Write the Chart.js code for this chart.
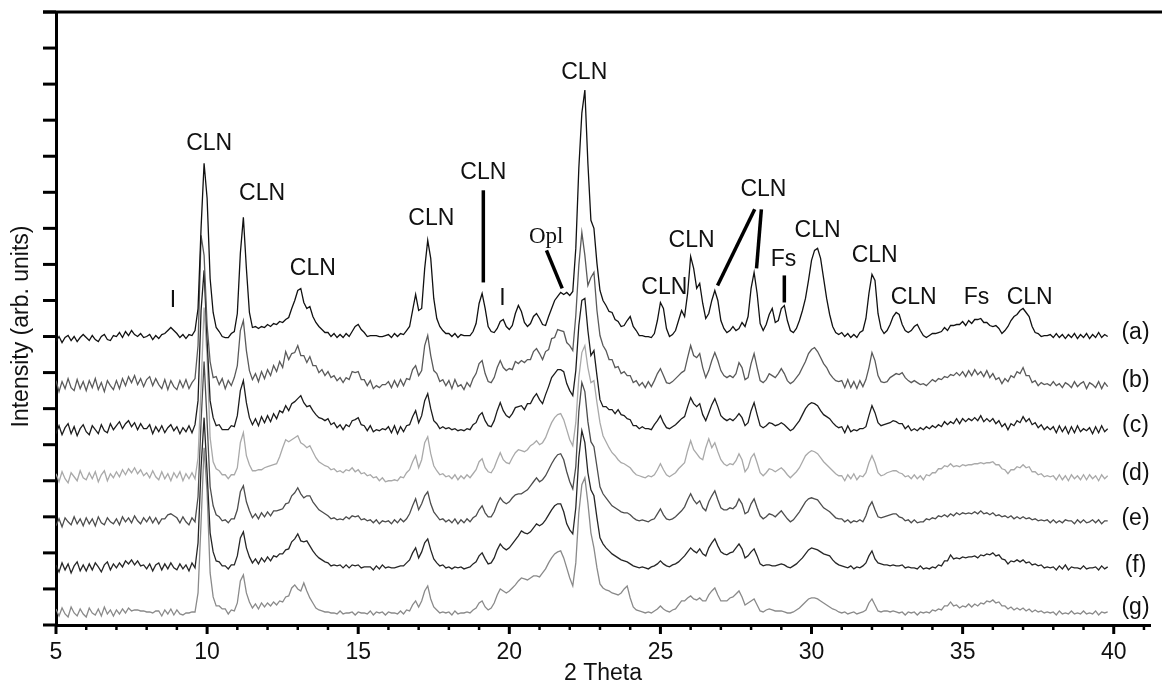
<!DOCTYPE html>
<html>
<head>
<meta charset="utf-8">
<title>XRD patterns (a)-(g)</title>
<script src="https://cdn.jsdelivr.net/npm/chart.js@4.4.1/dist/chart.umd.min.js"></script>
<style>
  html, body { margin: 0; padding: 0; background: #fff; }
  #xrd { display: block; }
</style>
</head>
<body>
<canvas id="xrd" width="1162" height="687"></canvas>
<script>
// xrd.html
// Stacked powder XRD patterns, seven samples (a)..(g), 5–39.8° 2θ
// Intensities are counts above each pattern's own baseline; every pattern
// is lifted by its stacking offset when plotted.

// ── SCAN GRID ───────────────────────────────────────
const thetaStart = 5.0;
const thetaStep  = 0.1;   // 349 points, 5.0 .. 39.8

// ── PATTERNS (one row = one degree) ─────────────────
const patternA = [
  -3,2,-4,1,3,-2,2,-3,1,4,
  1,-2,3,-1,-3,2,4,-1,-2,3,
  2,6,1,7,3,8,4,2,5,1,
  2,4,-1,3,0,4,5,8,11,8,
  5,1,4,0,4,3,8,30,110,175,
  140,60,26,11,7,2,1,1,5,7,
  25,85,121,70,26,11,12,10,12,11,
  14,12,15,14,17,16,19,21,30,38,
  48,50,36,30,32,22,16,12,9,6,
  6,2,5,1,4,1,5,2,7,12,
  14,9,6,2,3,3,3,2,2,3,
  4,1,5,2,5,4,8,12,28,44,
  28,30,70,98,80,40,20,12,8,5,
  5,2,5,1,4,3,3,3,7,15,
  35,45,30,12,7,6,10,17,19,12,
  9,13,25,33,27,16,12,15,22,25,
  20,14,13,22,30,38,42,46,44,46,
  43,47,90,170,225,248,175,118,110,75,
  48,38,33,27,26,19,17,12,13,18,
  22,12,8,3,3,2,2,1,5,18,
  36,30,10,2,4,8,18,28,22,45,
  82,70,50,55,35,20,25,38,48,38,
  18,10,6,8,12,8,10,16,12,22,
  50,66,45,15,8,14,24,30,16,18,
  30,33,18,8,6,10,18,28,40,58,
  78,88,90,80,60,40,24,12,6,4,
  6,2,5,1,4,1,6,8,20,45,
  64,58,25,10,5,8,14,22,26,24,
  14,8,6,8,12,14,8,3,1,3,
  5,5,6,7,11,8,13,13,14,14,
  17,13,18,15,19,19,20,16,16,13,
  12,13,10,5,8,12,18,22,24,28,
  30,26,22,12,6,5,2,3,3,4,
  1,5,1,4,0,4,1,5,0,4,
  1,5,0,4,1,6,1,4,2
];

const patternB = [
  5,-6,4,-3,7,-2,-5,6,-3,4,
  -5,5,-2,7,-4,3,-6,5,0,-4,
  5,-3,7,0,9,3,10,1,7,-1,
  6,9,0,7,1,-3,6,-4,5,-1,
  -4,5,-2,6,-3,3,7,40,150,130,
  60,24,8,9,1,7,-3,5,0,8,
  20,55,65,35,15,6,12,4,14,7,
  16,10,20,14,24,18,34,26,32,33,
  40,30,30,23,29,20,20,13,16,10,
  14,8,10,5,8,3,8,6,14,13,
  14,6,6,0,5,-3,0,-2,1,1,
  4,-2,5,-1,6,0,7,6,16,20,
  10,15,40,50,30,15,12,4,6,0,
  5,-3,6,-1,1,-4,3,-1,7,12,
  22,25,12,4,3,8,18,25,18,15,
  17,16,24,22,25,23,26,26,34,37,
  32,26,34,36,47,48,56,55,54,43,
  40,35,70,120,153,130,100,108,113,75,
  50,40,35,26,26,18,19,12,14,10,
  10,3,5,0,3,-2,4,-1,5,12,
  17,10,3,2,4,7,10,13,15,28,
  40,30,28,32,18,8,15,25,33,25,
  15,10,8,10,8,12,23,18,6,8,
  22,32,18,5,3,6,12,10,8,12,
  17,12,5,2,4,8,12,18,24,32,
  36,38,34,28,22,18,12,8,5,4,
  5,-2,6,-2,4,-3,5,-1,6,18,
  33,25,10,4,3,4,8,10,12,11,
  13,8,5,3,5,3,1,2,0,3,
  6,4,7,6,9,8,11,10,13,10,
  14,9,15,10,16,11,14,9,15,8,
  12,6,8,2,7,4,10,8,14,12,
  18,10,10,3,5,0,3,1,2,0,
  4,0,2,-2,3,1,-2,4,-1,2,
  4,-3,3,1,-2,4,-3,3,-1
];

const patternC = [
  -3,5,-4,3,7,-3,4,-5,2,6,
  -1,-4,5,1,-3,6,0,-2,7,1,
  5,9,2,7,10,4,8,1,7,2,
  2,6,-3,4,-1,5,-2,3,6,0,
  4,-3,3,-1,5,-2,6,30,120,160,
  90,30,13,5,6,1,1,1,5,4,
  15,40,50,28,13,6,12,5,14,8,
  15,9,17,12,20,18,25,20,27,29,
  32,35,28,24,25,20,16,13,12,10,
  12,6,8,3,6,1,6,4,10,11,
  13,6,5,0,5,-1,1,0,2,1,
  4,-2,5,-3,4,-1,5,6,14,20,
  8,15,30,37,22,10,7,2,4,2,
  3,1,2,0,1,0,2,1,6,8,
  15,18,10,5,4,10,20,28,20,15,
  13,17,23,24,25,21,27,27,33,37,
  31,27,36,44,53,57,61,61,59,47,
  40,35,60,105,130,132,100,75,80,55,
  31,24,24,21,21,17,21,16,15,12,
  11,5,5,2,4,2,2,1,6,10,
  15,8,3,2,4,6,9,12,14,24,
  33,27,24,27,16,10,18,26,32,24,
  15,12,10,12,10,13,17,13,5,8,
  20,28,16,5,3,5,8,7,5,6,
  8,6,3,0,2,6,10,16,22,26,
  28,27,25,20,16,14,12,8,5,3,
  4,-2,5,-1,1,0,2,2,4,15,
  25,18,8,5,6,7,8,10,9,7,
  7,2,5,0,2,0,3,1,4,2,
  5,3,6,4,9,6,9,7,12,7,
  12,9,12,10,13,10,15,9,12,9,
  12,7,10,4,7,1,7,5,10,8,
  14,9,12,6,8,3,6,1,4,1,
  4,-2,5,-1,4,-3,4,-2,5,-1,
  2,0,3,-3,4,-2,5,-1,2
];

const patternD = [
  4,-4,6,-1,-5,5,1,-3,7,0,
  -2,5,-1,6,-4,3,7,-3,4,0,
  6,1,8,3,9,5,10,4,8,2,
  5,0,7,1,-2,6,-1,4,-3,5,
  0,6,-3,4,-1,5,-1,20,90,170,
  120,40,16,9,7,3,3,-1,3,3,
  10,35,45,22,13,7,7,8,8,10,
  11,12,13,14,21,30,38,36,38,40,
  42,35,33,30,32,26,20,16,14,12,
  11,8,9,6,7,5,8,7,10,6,
  8,4,5,2,3,0,1,-3,0,-4,
  -3,-3,-2,-3,1,0,5,8,16,22,
  10,18,35,41,24,12,7,3,4,1,
  2,-1,3,-2,2,-1,3,0,4,8,
  16,19,10,6,5,10,18,25,18,15,
  14,20,25,28,27,26,28,32,34,37,
  33,35,40,48,55,60,63,64,58,48,
  38,32,55,100,125,132,110,95,97,75,
  55,42,36,30,25,22,18,15,14,12,
  10,6,3,2,1,0,2,1,3,8,
  14,8,3,1,3,5,9,12,15,27,
  37,28,24,20,18,30,39,30,35,26,
  18,14,12,14,13,17,24,18,6,10,
  20,24,15,5,2,5,9,8,6,8,
  10,7,3,0,3,6,10,16,22,25,
  27,26,24,20,16,13,10,7,4,2,
  2,-3,3,-1,4,-2,2,1,5,15,
  22,15,5,2,3,5,6,7,7,5,
  4,1,2,-1,3,-1,2,-2,3,2,
  5,5,9,9,12,11,14,11,12,11,
  13,12,13,13,14,14,15,14,15,15,
  16,13,13,9,8,4,8,8,11,10,
  13,10,11,6,6,3,4,1,2,1,
  2,-2,3,-2,2,-3,3,-1,2,-2,
  3,-2,3,-1,2,-3,3,-1,2
];

const patternE = [
  -4,3,-5,4,0,-3,5,-2,3,-4,
  4,-2,3,-4,5,-1,-3,4,0,-2,
  3,-3,5,0,4,-1,6,1,-2,4,
  0,5,-1,4,-2,3,3,7,8,6,
  4,-1,5,0,-3,4,0,25,100,160,
  100,35,16,7,5,1,2,-1,3,3,
  12,30,36,20,11,4,8,3,9,5,
  10,6,11,11,12,13,18,19,26,29,
  34,28,24,26,26,20,16,12,10,8,
  6,3,4,2,3,2,5,3,6,5,
  6,2,3,1,2,-1,2,-2,1,0,
  1,-2,2,-1,3,0,3,8,16,23,
  12,18,26,30,18,10,6,2,3,0,
  2,-1,3,-2,2,-1,3,0,4,6,
  12,16,9,5,5,10,18,24,20,18,
  20,24,27,28,28,30,32,36,40,44,
  40,42,46,52,58,63,67,68,62,50,
  40,33,55,110,139,130,100,80,75,55,
  35,28,24,20,16,14,12,10,9,9,
  7,4,2,1,2,1,0,2,3,8,
  13,7,3,2,3,5,8,11,15,22,
  28,22,18,21,14,11,20,26,31,22,
  14,12,12,14,13,16,23,18,8,10,
  18,23,14,6,3,5,8,7,5,8,
  11,7,3,0,2,6,10,15,20,23,
  24,23,22,18,14,12,10,7,4,3,
  3,0,2,-1,1,0,2,0,6,15,
  20,12,5,4,5,6,7,8,8,5,
  4,1,2,-1,2,-1,0,0,3,2,
  4,3,6,5,7,5,8,6,9,7,
  9,8,9,8,10,8,11,8,9,7,
  9,6,7,5,6,4,6,3,5,3,
  5,3,4,2,3,1,2,1,2,-1,
  2,-1,1,-1,2,1,1,-2,2,-1,
  2,-1,0,2,-1,2,-2,1,1
];

const patternF = [
  3,-4,5,-2,4,-5,2,6,-3,3,
  -3,4,-2,5,1,-4,3,6,-2,4,
  0,5,1,7,4,8,3,7,2,3,
  -1,4,-3,3,5,-2,4,-1,5,0,
  -2,4,-1,3,-3,5,0,25,100,150,
  95,35,16,7,6,2,2,-1,3,3,
  12,30,36,20,11,5,9,4,10,6,
  11,7,12,11,14,14,18,19,26,29,
  34,27,26,27,22,17,13,10,8,6,
  5,2,3,2,3,0,3,0,3,2,
  3,0,1,1,1,-2,2,-1,3,0,
  1,0,0,1,2,2,5,8,15,20,
  10,16,25,29,18,9,5,2,3,0,
  1,-1,1,0,1,-1,0,1,4,6,
  12,15,9,4,5,10,18,24,20,18,
  20,24,28,32,37,35,34,36,40,44,
  42,44,48,53,58,62,64,64,56,44,
  38,34,60,110,137,125,95,78,72,50,
  30,24,20,17,14,12,10,8,7,6,
  4,2,1,0,1,0,-1,1,2,4,
  7,4,2,1,3,4,6,9,12,16,
  20,17,15,19,14,12,20,25,29,22,
  16,14,13,15,16,20,24,19,10,12,
  16,19,12,4,2,3,3,2,2,3,
  4,3,1,0,2,4,7,10,14,18,
  20,19,18,16,14,13,12,8,5,3,
  2,1,0,2,-1,1,0,2,5,12,
  17,9,5,4,3,3,2,3,2,2,
  3,0,1,0,0,-1,2,-1,0,-1,
  1,0,3,2,7,7,13,9,10,9,
  11,10,11,11,12,10,13,12,14,13,
  15,12,13,9,8,4,7,6,8,6,
  8,5,6,3,4,2,3,0,1,0,
  1,-2,2,-1,3,-2,1,0,0,-1,
  2,-1,0,0,1,-2,2,-1,1
];

const patternG = [
  4,-3,5,-1,-4,6,0,-3,4,-1,
  -4,5,0,-2,4,-3,6,-1,3,-3,
  3,-1,4,0,5,2,3,3,2,2,
  1,1,0,2,2,-3,3,-1,4,-2,
  3,-1,-2,0,0,1,1,20,90,165,
  120,40,16,7,7,4,4,-1,3,2,
  10,32,38,20,11,5,9,4,10,6,
  10,7,11,8,12,11,16,17,25,28,
  24,22,30,22,15,10,5,3,2,1,
  1,0,0,-1,2,-1,0,0,1,-2,
  1,0,0,-1,2,-2,1,0,1,-2,
  1,0,0,-1,2,-1,3,2,8,12,
  6,12,22,27,14,6,3,0,1,0,
  1,-2,2,-1,0,0,1,0,3,5,
  10,12,6,3,5,10,18,24,22,20,
  22,25,28,32,35,34,33,35,37,37,
  36,40,44,50,55,59,61,62,55,45,
  35,27,50,100,128,135,110,80,65,45,
  29,25,23,22,20,19,18,20,24,27,
  15,6,3,2,1,0,1,0,2,4,
  7,4,2,1,3,4,8,12,12,15,
  17,14,13,15,12,12,18,22,25,18,
  12,12,12,15,16,19,22,16,8,10,
  12,14,8,2,1,3,4,3,2,2,
  2,1,0,0,1,3,5,8,11,14,
  15,15,14,12,10,8,6,4,3,1,
  0,1,-1,0,1,-1,0,1,3,10,
  14,8,2,1,2,2,1,2,1,0,
  1,-2,1,0,1,-2,1,0,1,0,
  3,2,4,3,7,7,11,7,8,5,
  7,6,9,6,9,7,10,9,12,11,
  13,10,11,7,7,4,6,3,5,3,
  5,2,4,1,3,1,2,0,1,0,
  1,-2,2,-1,0,-1,2,-1,0,-1,
  2,-1,0,-1,2,-2,1,0,1
];

const sampleNames = ['(a)', '(b)', '(c)', '(d)', '(e)', '(f)', '(g)'];
const patterns    = [patternA, patternB, patternC, patternD, patternE, patternF, patternG];
const offsets     = [286, 239, 194, 147, 103, 57, 12];   // stacking lift, counts
const lineColors  = ['#111111', '#5a5a5a', '#1c1c1c', '#a9a9a9', '#4d4d4d', '#262626', '#8a8a8a'];

// x tick labels, y tick spacing
const thetaLabels = [5, 10, 15, 20, 25, 30, 35, 40];
const yTickStep   = 36;
const yMax        = 612;

// ── PHASE ANNOTATIONS ───────────────────────────────
// [text, 2θ, intensity]
const phaseLabels = [
  ['CLN', 10.07, 481], ['CLN', 11.82, 431], ['CLN', 13.5, 356],
  ['CLN', 17.42, 406], ['CLN', 19.14, 452], ['CLN', 22.48, 551],
  ['CLN', 25.13, 337], ['CLN', 26.03, 384], ['CLN', 28.41, 435],
  ['CLN', 30.2, 394],  ['CLN', 32.09, 369], ['CLN', 33.38, 327],
  ['CLN', 37.22, 327],
  ['I', 8.87, 324], ['I', 19.77, 326],
  ['Fs', 29.07, 365], ['Fs', 35.46, 327]
];
const oplLabel = ['Opl', 21.22, 387];
// leader lines [x1, y1, x2, y2]
const leaders = [
  [19.14, 434, 19.14, 342],
  [21.23, 374, 21.75, 336],
  [28.12, 415, 26.89, 339],
  [28.34, 415, 28.18, 356],
  [29.10, 349, 29.10, 322]
];
const sampleLabelTheta = 40.72;
const sampleLabelY     = [292, 244, 199, 151, 106, 59, 17];
const yTitle = 'Intensity (arb. units)';

const SANS  = "'Liberation Sans', Arial, Helvetica, sans-serif";
const SERIF = "'Liberation Serif', 'Times New Roman', serif";

// ── BUILD DATASETS ──────────────────────────────────
function toPoints(values, lift) {
  return values.map((v, i) => ({
    x: Math.round((thetaStart + i * thetaStep) * 10) / 10,
    y: v + lift
  }));
}

const datasets = patterns.map((p, k) => ({
  label: sampleNames[k],
  data: toPoints(p, offsets[k]),
  borderColor: lineColors[k],
  borderWidth: 1.3,
  pointRadius: 0,
  tension: 0,
  fill: false
}));

// ── FRAME, TICKS AND LABELS ─────────────────────────
const decor = {
  id: 'decor',
  beforeDraw(chart) {
    const { ctx, width, height } = chart;
    ctx.save();
    ctx.fillStyle = '#fff';
    ctx.fillRect(0, 0, width, height);
    ctx.restore();
  },
  afterDraw(chart) {
    const { ctx, chartArea: a, scales } = chart;
    const xs = scales.x, ys = scales.y;
    ctx.save();
    ctx.strokeStyle = '#000';
    ctx.lineCap = 'butt';

    // top rule
    ctx.lineWidth = 3;
    ctx.beginPath();
    ctx.moveTo(a.left - 13, a.top);
    ctx.lineTo(chart.width, a.top);
    ctx.stroke();

    // y ticks (outside, no labels)
    for (let v = 0; v <= yMax; v += yTickStep) {
      const py = ys.getPixelForValue(v);
      ctx.beginPath();
      ctx.moveTo(a.left - 13, py);
      ctx.lineTo(a.left, py);
      ctx.stroke();
    }

    // x ticks: major every 5°, minor every 1°
    for (let t = 5; t <= 41; t++) {
      const px = xs.getPixelForValue(t);
      const major = thetaLabels.includes(t);
      ctx.lineWidth = major ? 3 : 2.5;
      ctx.beginPath();
      ctx.moveTo(px, a.bottom);
      ctx.lineTo(px, a.bottom + (major ? 9 : 5));
      ctx.stroke();
    }

    // leader lines
    ctx.lineWidth = 3.5;
    leaders.forEach(([x1, y1, x2, y2]) => {
      ctx.beginPath();
      ctx.moveTo(xs.getPixelForValue(x1), ys.getPixelForValue(y1));
      ctx.lineTo(xs.getPixelForValue(x2), ys.getPixelForValue(y2));
      ctx.stroke();
    });

    // phase labels
    ctx.fillStyle = '#111';
    ctx.textAlign = 'center';
    ctx.textBaseline = 'middle';
    ctx.font = '23px ' + SANS;
    phaseLabels.forEach(([txt, t, v]) => {
      ctx.fillText(txt, xs.getPixelForValue(t), ys.getPixelForValue(v));
    });
    ctx.font = '23px ' + SERIF;
    ctx.fillText(oplLabel[0], xs.getPixelForValue(oplLabel[1]), ys.getPixelForValue(oplLabel[2]));

    // sample labels at the right end
    ctx.font = '23px ' + SANS;
    sampleNames.forEach((n, k) => {
      ctx.fillText(n, xs.getPixelForValue(sampleLabelTheta), ys.getPixelForValue(sampleLabelY[k]));
    });

    // y axis title, rotated
    ctx.translate(22, (a.top + a.bottom) / 2 + 8);
    ctx.rotate(-Math.PI / 2);
    ctx.fillText(yTitle, 0, 0);
    ctx.restore();
  }
};

new Chart(document.getElementById('xrd'), {
  type: 'line',
  data: { datasets },
  options: {
    responsive: false,
    animation: false,
    devicePixelRatio: 1,
    layout: { padding: { top: 12, right: 12, left: 0, bottom: 0 } },
    plugins: { legend: { display: false }, tooltip: { enabled: false } },
    scales: {
      x: {
        type: 'linear',
        min: 5,
        max: 41.2,
        afterFit: s => { s.height = 62; },
        border: { display: true, color: '#000', width: 3 },
        grid: { display: true, drawOnChartArea: false, drawTicks: true, tickLength: 9, tickColor: 'rgba(0,0,0,0)' },
        ticks: {
          stepSize: 1,
          autoSkip: false,
          maxRotation: 0,
          padding: 5,
          color: '#111',
          font: { family: SANS, size: 23 },
          callback: v => thetaLabels.includes(v) ? String(v) : ''
        },
        title: {
          display: true,
          text: '2 Theta',
          color: '#111',
          font: { family: SANS, size: 23 },
          padding: { top: 0, bottom: 0 }
        }
      },
      y: {
        min: 0,
        max: yMax,
        afterFit: s => { s.width = 56; },
        border: { display: true, color: '#000', width: 3 },
        grid: { display: false },
        ticks: { display: false, stepSize: yTickStep },
        title: { display: false }
      }
    }
  },
  plugins: [decor]
});
</script>
</body>
</html>
